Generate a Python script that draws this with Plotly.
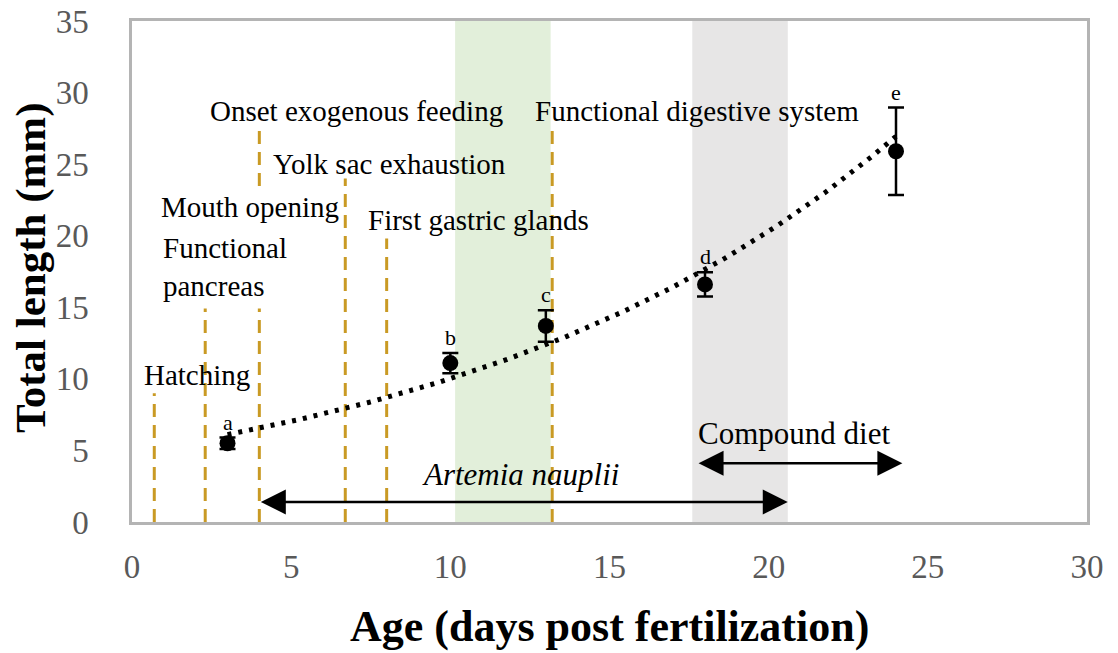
import numpy as np
import plotly.graph_objects as go

# ---- data ----
ages = [3, 10, 13, 18, 24]
lengths = [5.5, 11.1, 13.7, 16.6, 25.9]
errors = [0.4, 0.7, 1.1, 0.85, 3.05]
letters = ["a", "b", "c", "d", "e"]

event_x = [0.7, 2.3, 4.0, 6.7, 8.0, 13.2]
event_top = [9.0, 15.2, 27.6, 24.0, 19.8, 27.6]

label_text = ["Hatching", "Functional<br>pancreas", "Mouth opening",
              "Onset exogenous feeding", "Yolk sac exhaustion",
              "First gastric glands", "Functional digestive system"]
label_x = [0.3, 0.745, 0.8, 2.4, 4.38, 7.36, 12.6]
label_y = [10.3, 17.8, 22.0, 28.7, 25.0, 21.1, 28.7]
label_pad = [1, 6, 3, 1, 1, 1, 1]
label_bg = [False, True, True, False, False, False, False]

band_x0 = [10.15, 17.6]
band_x1 = [13.15, 20.6]
band_colors = ["#E2EFDA", "#E7E6E6"]

diet_names = ["<i>Artemia nauplii</i>", "Compound diet"]
diet_start = [4.0, 17.75]
diet_end = [20.6, 24.2]
diet_arrow_y = [1.4, 4.1]
diet_label_x = [12.2, 20.8]
diet_label_y = [3.3, 6.2]

x_ticks = [0, 5, 10, 15, 20, 25, 30]
y_ticks = [0, 5, 10, 15, 20, 25, 30, 35]

SERIF = "Liberation Serif, Times New Roman, serif"
GOLD = "#C99A24"

# exponential trendline fitted to the means
b, a = np.polyfit(ages, np.log(lengths), 1)
tx = np.linspace(min(ages), max(ages), 200)
ty = np.exp(a) * np.exp(b * tx)

fig = go.Figure()

fig.add_trace(go.Scatter(
    x=tx, y=ty, mode="lines",
    line=dict(color="black", width=5, dash="4px,7px"),
    hoverinfo="skip", showlegend=False))

fig.add_trace(go.Scatter(
    x=ages, y=lengths, mode="markers",
    marker=dict(color="black", size=16),
    error_y=dict(type="data", array=errors, color="black", thickness=2.5, width=8),
    showlegend=False))

shapes = []
for x0, x1, c in zip(band_x0, band_x1, band_colors):
    shapes.append(dict(type="rect", xref="x", yref="paper", x0=x0, x1=x1, y0=0, y1=1,
                       fillcolor=c, line=dict(width=0), layer="below"))
for x, top in zip(event_x, event_top):
    shapes.append(dict(type="line", xref="x", yref="y", x0=x, x1=x, y0=0, y1=top,
                       line=dict(color=GOLD, width=3, dash="13px,8px"), layer="below"))

annotations = []
for t, x, y, bg, pad in zip(label_text, label_x, label_y, label_bg, label_pad):
    annotations.append(dict(
        text=t, x=x, y=y, xref="x", yref="y", xanchor="left", yanchor="middle",
        align="left", showarrow=False,
        font=dict(family=SERIF, size=29, color="black"),
        bgcolor="white" if bg else "rgba(0,0,0,0)", borderpad=pad))

for xv, yv, ev, lt in zip(ages, lengths, errors, letters):
    annotations.append(dict(
        text=lt, x=xv, y=yv + ev, xref="x", yref="y", xanchor="center", yanchor="bottom",
        yshift=1, showarrow=False, font=dict(family=SERIF, size=22, color="black")))

for name, xs, xe, ya, lx, ly in zip(diet_names, diet_start, diet_end, diet_arrow_y,
                                    diet_label_x, diet_label_y):
    annotations.append(dict(
        text="", x=xe, y=ya, ax=xs, ay=ya, xref="x", yref="y", axref="x", ayref="y",
        showarrow=True, arrowside="end+start", arrowhead=2, arrowsize=2.0,
        arrowwidth=2.5, arrowcolor="black", standoff=0, startstandoff=0))
    annotations.append(dict(
        text=name, x=lx, y=ly, xref="x", yref="y", xanchor="center", yanchor="middle",
        showarrow=False, font=dict(family=SERIF, size=31, color="black")))

annotations.append(dict(
    text="<b>Total length (mm)</b>", xref="paper", yref="paper",
    x=(31 - 132) / 955, y=(522 - 268) / 501, xanchor="center", yanchor="middle",
    textangle=-90, showarrow=False, font=dict(family=SERIF, size=43, color="black")))
annotations.append(dict(
    text="<b>Age (days post fertilization)</b>", xref="paper", yref="paper",
    x=0.5, y=-(626 - 522) / 501, xanchor="center", yanchor="middle",
    showarrow=False, font=dict(family=SERIF, size=44, color="black")))

fig.update_layout(
    width=1118, height=653,
    margin=dict(l=132, r=31, t=21, b=131, autoexpand=False),
    paper_bgcolor="white", plot_bgcolor="white",
    shapes=shapes, annotations=annotations,
    showlegend=False,
)
fig.update_xaxes(range=[0, 30], tickvals=x_ticks, showgrid=False, zeroline=False,
                 showline=True, mirror=True, linecolor="#B4B4B4", linewidth=2.5,
                 ticks="", ticklabelstandoff=14, automargin=False,
                 tickfont=dict(family=SERIF, size=33, color="#595959"))
fig.update_yaxes(range=[0, 35], tickvals=y_ticks, showgrid=False, zeroline=False,
                 showline=True, mirror=True, linecolor="#B4B4B4", linewidth=2.5,
                 ticks="", ticklabelstandoff=34, automargin=False,
                 tickfont=dict(family=SERIF, size=33, color="#595959"))

fig.write_html("out.html", config={"displayModeBar": False},
               post_script="document.body.style.margin='0';")
